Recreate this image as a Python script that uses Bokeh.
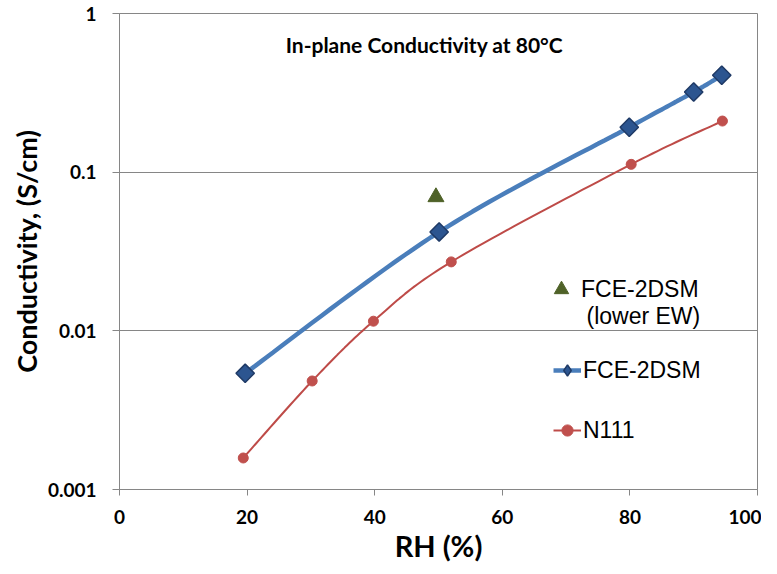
import math
from bokeh.plotting import figure
from bokeh.models import (FixedTicker, CustomJSTickFormatter, Legend, LegendItem, Label)
from bokeh.embed import file_html
from bokeh.resources import INLINE

# ---- data ----
rh_fce = [19.7, 50.1, 79.9, 90.0, 94.4]
cond_fce = [0.0054, 0.042, 0.192, 0.32, 0.408]

rh_n111 = [19.4, 30.2, 39.8, 52.0, 80.2, 94.5]
cond_n111 = [0.00158, 0.00483, 0.0115, 0.0272, 0.112, 0.21]

rh_low = [49.6]
cond_low = [0.0697]

x_ticks = [0, 20, 40, 60, 80, 100]
y_ticks = [0.001, 0.01, 0.1, 1]

title_text = "In-plane Conductivity at 80°C"
series_names = ["FCE-2DSM", "(lower EW)", "FCE-2DSM", "N111"]


def smooth(xs, ys, n=24):
    """Excel-like smoothing: uniform Catmull-Rom in (x, log10 y)."""
    ly = [math.log10(v) for v in ys]
    px = [xs[0]] + list(xs) + [xs[-1]]
    py = [ly[0]] + ly + [ly[-1]]
    ox, oy = [], []
    for i in range(1, len(px) - 2):
        x0, x1, x2, x3 = px[i - 1], px[i], px[i + 1], px[i + 2]
        y0, y1, y2, y3 = py[i - 1], py[i], py[i + 1], py[i + 2]
        c1x, c1y = x1 + (x2 - x0) / 6, y1 + (y2 - y0) / 6
        c2x, c2y = x2 - (x3 - x1) / 6, y2 - (y3 - y1) / 6
        for k in range(n + (1 if i == len(px) - 3 else 0)):
            t = k / n
            a, b, c, d = (1 - t) ** 3, 3 * (1 - t) ** 2 * t, 3 * (1 - t) * t ** 2, t ** 3
            ox.append(a * x1 + b * c1x + c * c2x + d * x2)
            oy.append(10 ** (a * y1 + b * c1y + c * c2y + d * y2))
    return ox, oy


FONT = "Lato"
GRAY = "#868686"
BLUE_LINE = "#4A7EBB"
BLUE_FILL = "#2C5590"
BLUE_EDGE = "#1F3A66"
RED = "#BE4B48"
GREEN = "#4F6228"

p = figure(width=761, height=566, y_axis_type="log",
           x_range=(0, 100), y_range=(0.001, 1),
           output_backend="svg", toolbar_location=None,
           min_border_left=119, min_border_right=4,
           min_border_top=13, min_border_bottom=77)

p.background_fill_color = "white"
p.border_fill_color = "white"
p.outline_line_color = GRAY
p.outline_line_width = 1

p.xgrid.visible = False
p.ygrid.ticker = FixedTicker(ticks=y_ticks)
p.ygrid.grid_line_color = GRAY
p.ygrid.grid_line_width = 1

p.xaxis.ticker = FixedTicker(ticks=x_ticks)
p.yaxis.ticker = FixedTicker(ticks=y_ticks)
p.yaxis.formatter = CustomJSTickFormatter(code="return tick.toString();")

for ax in (p.xaxis, p.yaxis):
    ax.axis_line_color = GRAY
    ax.major_tick_line_color = GRAY
    ax.minor_tick_line_color = None
    ax.major_tick_in = 0
    ax.major_label_text_font = FONT
    ax.major_label_text_font_style = "bold"
    ax.major_label_text_font_size = "19px"
    ax.major_label_text_color = "black"
    ax.axis_label_text_font = FONT
    ax.axis_label_text_font_style = "bold"
    ax.axis_label_text_color = "black"

p.xaxis.axis_label_text_font_size = "29px"
p.yaxis.axis_label_text_font_size = "27px"
p.xaxis.major_tick_out = 6
p.xaxis.major_label_standoff = 14
p.xaxis.axis_label_standoff = 1
p.yaxis.major_tick_out = 7
p.yaxis.major_label_standoff = 16
p.yaxis.axis_label_standoff = 2
p.xaxis.axis_label = "RH (%)"
p.yaxis.axis_label = "Conductivity, (S/cm)"

# N111
sx, sy = smooth(rh_n111, cond_n111)
n_line = p.line(sx, sy, line_color=RED, line_width=2)
n_pts = p.scatter(rh_n111, cond_n111, marker="circle", size=10,
                  fill_color="#C0504D", line_color="#C0504D")

# FCE-2DSM
fx, fy = smooth(rh_fce, cond_fce)
f_line = p.line(fx, fy, line_color=BLUE_LINE, line_width=4.5)
f_pts = p.scatter(rh_fce, cond_fce, marker="square", angle=math.pi / 4, size=13,
                  fill_color=BLUE_FILL, line_color=BLUE_EDGE, line_width=1.5)
# legend-only key glyph (Excel diamond marker); a NaN point draws nothing
f_key = p.scatter(x=[float("nan")], y=[float("nan")], marker="diamond", size=13,
                  fill_color=BLUE_FILL, line_color=BLUE_EDGE, line_width=1.5)

# lower EW
l_pts = p.scatter(rh_low, cond_low, marker="triangle", size=16,
                  fill_color=GREEN, line_color=GREEN)


def style_legend(lg, gw, gh):
    lg.label_text_font = "Liberation Sans"
    lg.label_text_font_size = "23px"
    lg.label_text_color = "black"
    lg.glyph_width = gw
    lg.glyph_height = gh
    lg.label_standoff = 2
    lg.padding = 0
    lg.margin = 0
    lg.border_line_alpha = 0
    lg.background_fill_alpha = 0


legend1 = Legend(items=[LegendItem(label=series_names[0], renderers=[l_pts])],
                 location=(424, 182))
style_legend(legend1, 36, 36)
p.add_layout(legend1, "center")

legend2 = Legend(items=[
    LegendItem(label=series_names[2], renderers=[f_line, f_key]),
    LegendItem(label=series_names[3], renderers=[n_line, n_pts]),
], location=(434, 44))
style_legend(legend2, 28, 30)
legend2.spacing = 30
p.add_layout(legend2, "center")

p.add_layout(Label(x=73.2, y=0.0124, text=series_names[1], text_align="left",
                   text_baseline="middle", text_font="Liberation Sans",
                   text_font_size="23px", text_color="black"))

p.add_layout(Label(x=47.8, y=0.641, text=title_text, text_align="center",
                   text_baseline="alphabetic", text_font=FONT,
                   text_font_style="bold", text_font_size="21px",
                   text_color="black"))

open("out.html", "w").write(file_html(p, INLINE))
